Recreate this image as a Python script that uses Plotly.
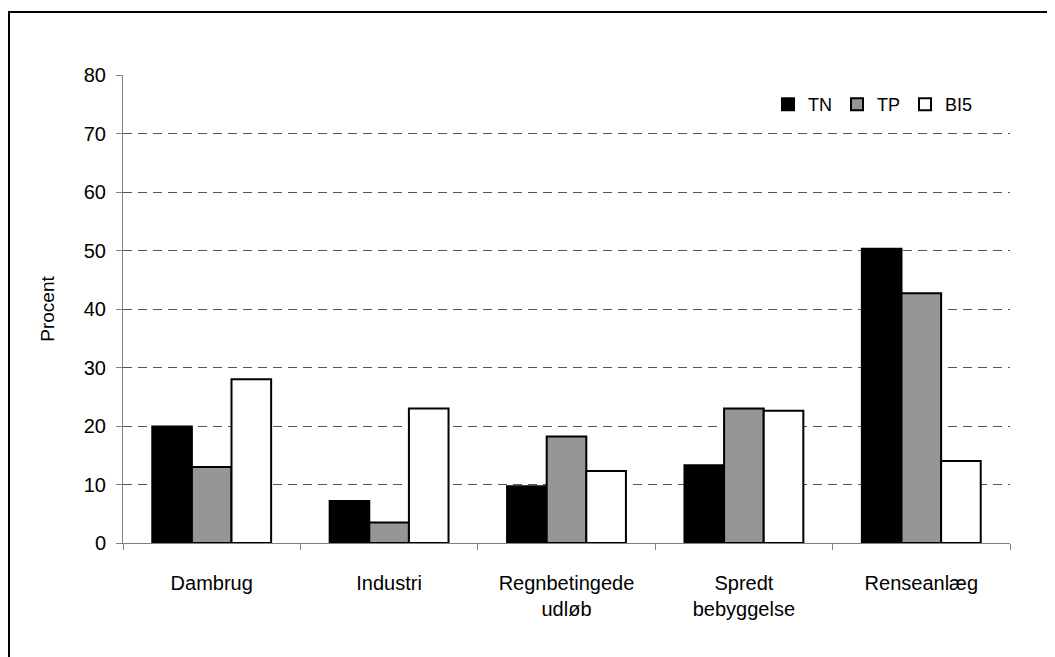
import plotly.graph_objects as go

categories = ["Dambrug", "Industri", "Regnbetingede<br>udløb", "Spredt<br>bebyggelse", "Renseanlæg"]
tn = [19.9, 7.2, 9.7, 13.3, 50.3]
tp = [13.0, 3.5, 18.2, 23.0, 42.7]
bi5 = [28.0, 23.0, 12.3, 22.6, 14.0]
y_ticks = [0, 10, 20, 30, 40, 50, 60, 70, 80]

# page has an 8px body margin; compensate so the plot lands where the reference has it
OFF = 8
W, H = 1055 - OFF, 657 - OFF
L, R, T, B = 123 - OFF, 45, 75 - OFF, 114
pw, ph = W - L - R, H - T - B

def px_x(p):
    return (p - OFF - L) / pw

def px_y(p):
    return (H - B - (p - OFF)) / ph

font = dict(family="Liberation Sans, Arial, sans-serif", size=20, color="black")

fig = go.Figure()
for name, vals, col in [("TN", tn, "black"), ("TP", tp, "#969696"), ("BI5", bi5, "white")]:
    fig.add_trace(go.Bar(x=categories, y=vals, name=name,
                         marker=dict(color=col, line=dict(color="black", width=2))))

fig.update_layout(
    width=W, height=H,
    margin=dict(l=L, r=R, t=T, b=B),
    paper_bgcolor="white", plot_bgcolor="white",
    font=font,
    barmode="group", bargap=0.33, bargroupgap=0,
    showlegend=True,
    legend=dict(orientation="h", x=px_x(978), y=px_y(86), xanchor="right", yanchor="top",
                font=dict(size=18), bgcolor="rgba(0,0,0,0)", itemwidth=30,
                tracegroupgap=0, traceorder="normal"),
    xaxis=dict(showline=True, linecolor="#808080", linewidth=1,
               ticks="outside", tickson="boundaries", ticklen=6, tickcolor="#808080",
               tickfont=dict(size=20), showgrid=False, ticklabelstandoff=22),
    yaxis=dict(range=[0, 80], tickvals=y_ticks, showline=True, linecolor="#808080", linewidth=1,
               ticks="outside", ticklen=6, tickcolor="#808080", ticklabelstandoff=6,
               showgrid=True, gridcolor="#555555", gridwidth=1, griddash="9px,6px",
               zeroline=False, tickfont=dict(size=20),
               title=dict(text="Procent", font=dict(size=19), standoff=24)),
    shapes=[dict(type="rect", xref="paper", yref="paper",
                 x0=px_x(9), x1=px_x(1090), y0=px_y(720), y1=px_y(12),
                 line=dict(color="black", width=2), fillcolor="rgba(0,0,0,0)", layer="below")],
)

fig.write_html("out.html")
